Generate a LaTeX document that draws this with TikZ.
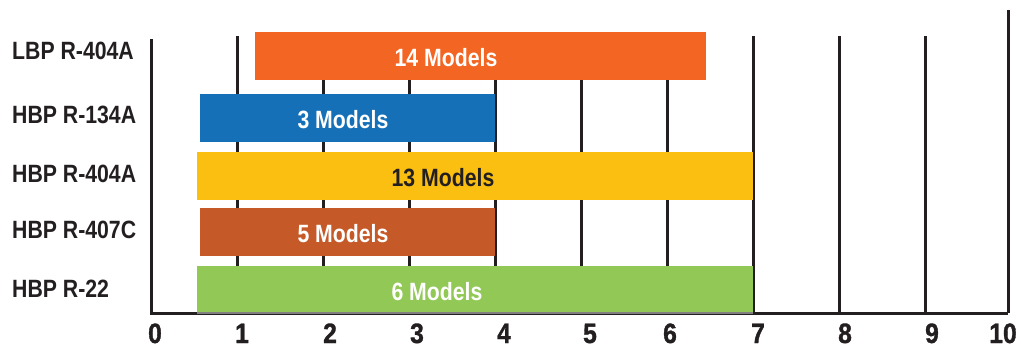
\documentclass[tikz,border=0pt]{standalone}
\usepackage{fontspec}
\setmainfont[FakeStretch=0.85]{Liberation Sans}
\newfontfamily\tickfont[FakeStretch=0.88,FakeBold=1.2]{Liberation Sans}

\definecolor{lbporange}{HTML}{F26522}
\definecolor{hbpblue}{HTML}{1570B8}
\definecolor{hbpyellow}{HTML}{FBBF12}
\definecolor{hbpbrown}{HTML}{C55A28}
\definecolor{hbpgreen}{HTML}{92C855}
\definecolor{axisgray}{HTML}{231F20}

\begin{document}
\begin{tikzpicture}[x=1pt,y=-1pt,
    gridline/.style={draw=axisgray,line width=3pt},
    rowlabel/.style={anchor=base west,inner sep=0pt,text=axisgray,font=\fontsize{25}{30}\selectfont\bfseries},
    barlabel/.style={anchor=base,inner sep=0pt,font=\fontsize{25}{30}\selectfont\bfseries},
    ticklabel/.style={anchor=base,inner sep=0pt,text=axisgray,font=\fontsize{28}{32}\selectfont\tickfont\bfseries}]
    \useasboundingbox (0,0) rectangle (1021,350);

    % grid and axes
    \foreach \x in {1,...,9}{
        \draw[gridline] ({151+86*\x},36) -- ({151+86*\x},313);
    }
    \draw[gridline] (1008,10) -- (1008,313);
    \draw[gridline] (151,39) |- (1008,313);

    % bars
    \foreach \xa/\ya/\xb/\yb/\col/\tcol/\tx/\txt [count=\i] in {255/32/706/80/lbporange/white/446/14 Models,200/94/495/142/hbpblue/white/343/3 Models,197/152/753/200/hbpyellow/axisgray/443/13 Models,200/208/495/256/hbpbrown/white/343/5 Models,197/266/753/313/hbpgreen/white/437/6 Models}{
        \fill[\col] (\xa,\ya) rectangle (\xb,\yb);
        \node[barlabel,text=\tcol] (bar\i) at (\tx,{(\ya+\yb)/2+11}) {\txt};
    }
    \draw[draw=gray,line width=1.5pt] (197,313) -- (753,313);

    % row labels
    \foreach \y/\lbl [count=\i] in {60/LBP R-404A,124/HBP R-134A,183/HBP R-404A,238/HBP R-407C,297/HBP R-22}{
        \node[rowlabel] (row\i) at (12,\y) {\lbl};
    }

    % tick labels
    \foreach \x [count=\i from 0] in {155,242,330,417,504,590,670,758,845,932,1003}{
        \node[ticklabel] (tick\i) at (\x,343) {\i};
    }
\end{tikzpicture}
\end{document}
